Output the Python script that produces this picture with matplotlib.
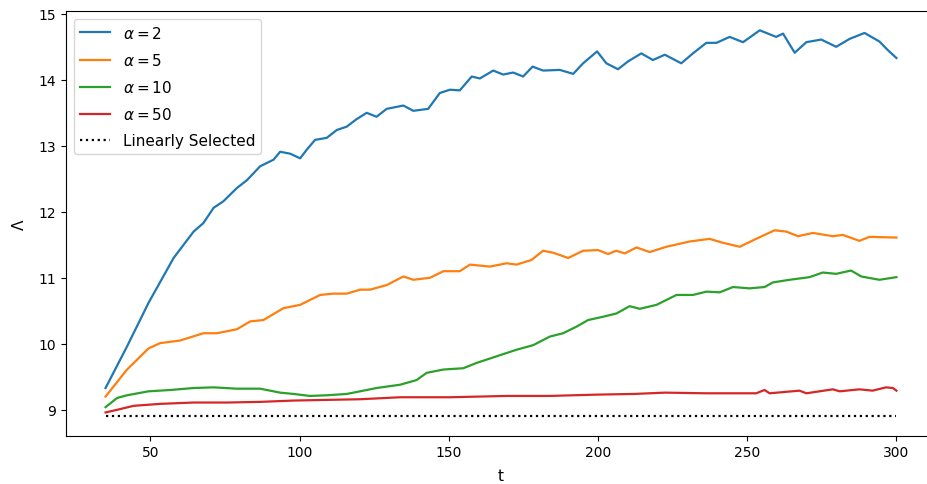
import matplotlib
matplotlib.use("Agg")
import matplotlib.pyplot as plt

t_a2 = [35, 42.2, 49.4, 57.8, 64.5, 67.8, 71.2, 74.5, 79, 82.4, 86.8, 91.3, 93.5, 96.9, 100.2,
        102.4, 105.2, 109.1, 112.5, 115.8, 119, 122.5, 125.8, 129.2, 134.8, 138.1, 143.1, 147,
        150.4, 153.7, 157.7, 160.4, 164.9, 168.2, 171.6, 174.9, 178.1, 181.6, 187.2, 191.7, 195,
        199.7, 202.8, 206.7, 210.1, 214.5, 218.4, 222.4, 227.9, 231.8, 236.3, 239.7, 244.1,
        248.6, 254.2, 259.7, 262, 265.9, 269.8, 274.8, 279.8, 284.3, 289.3, 294.3, 297.1, 300]
lam_a2 = [9.33, 9.96, 10.62, 11.30, 11.70, 11.83, 12.06, 12.16, 12.36, 12.48, 12.69, 12.79, 12.91,
          12.88, 12.81, 12.94, 13.09, 13.12, 13.24, 13.29, 13.40, 13.50, 13.44, 13.56, 13.61, 13.53,
          13.56, 13.80, 13.85, 13.84, 14.05, 14.02, 14.14, 14.08, 14.11, 14.05, 14.20, 14.14, 14.15,
          14.09, 14.25, 14.43, 14.25, 14.16, 14.28, 14.40, 14.30, 14.38, 14.25, 14.40, 14.56, 14.56,
          14.65, 14.57, 14.75, 14.65, 14.70, 14.41, 14.57, 14.61, 14.50, 14.62, 14.71, 14.58, 14.45,
          14.33]

t_a5 = [35, 42.2, 49.4, 53.3, 60, 67.8, 72.3, 79, 83.5, 87.9, 94.6, 100.2, 106.9, 111.3, 115.8,
        120.3, 123.6, 129.2, 134.8, 138.1, 143.7, 148.2, 153.7, 157.1, 163.8, 169.4, 172.7, 177.7,
        181.6, 185, 190, 195, 200, 203.4, 206.1, 209, 212.9, 217.3, 222.9, 230.7, 237.4, 241.9,
        247.5, 252.5, 259.2, 263.1, 267, 272, 278.7, 282, 287.6, 290.9, 300]
lam_a5 = [9.20, 9.61, 9.93, 10.01, 10.05, 10.16, 10.16, 10.22, 10.34, 10.36, 10.54, 10.59, 10.74,
          10.76, 10.76, 10.82, 10.82, 10.89, 11.02, 10.97, 11.00, 11.10, 11.10, 11.20, 11.17, 11.22,
          11.20, 11.27, 11.41, 11.38, 11.30, 11.41, 11.42, 11.36, 11.41, 11.37, 11.46, 11.39, 11.47,
          11.55, 11.59, 11.53, 11.47, 11.58, 11.72, 11.70, 11.63, 11.68, 11.63, 11.65, 11.56, 11.62,
          11.61]

t_a10 = [35, 38.9, 42.2, 49.4, 56.7, 64.5, 71.2, 79, 86.8, 93.5, 98, 103.5, 109.1, 115.8, 120.3,
         125.8, 133.7, 139.2, 142.6, 148.2, 154.9, 159.3, 166, 172.7, 178.3, 183.9, 188.3, 192.8,
         196.7, 201.7, 206.2, 210.6, 214, 219.6, 226.3, 231.8, 236.3, 240.8, 245.2, 250.8, 255.8,
         258.6, 264.2, 270.9, 275.3, 279.8, 284.8, 288.2, 294.3, 300]
lam_a10 = [9.04, 9.18, 9.22, 9.28, 9.30, 9.33, 9.34, 9.32, 9.32, 9.26, 9.24, 9.21, 9.22, 9.24, 9.28,
           9.33, 9.38, 9.45, 9.56, 9.61, 9.63, 9.71, 9.81, 9.91, 9.98, 10.11, 10.16, 10.26, 10.36,
           10.41, 10.46, 10.57, 10.53, 10.59, 10.74, 10.74, 10.79, 10.78, 10.86, 10.84, 10.86, 10.93,
           10.97, 11.01, 11.08, 11.06, 11.11, 11.02, 10.97, 11.01]

t_a50 = [35, 38.9, 44.4, 53.3, 64.5, 75.6, 86.8, 98, 109.1, 120.3, 133.7, 150.4, 169.4, 183.9,
         199.7, 212, 222.4, 236.3, 253, 255.8, 257.5, 267.5, 269.8, 278.7, 281, 287.6, 292, 296.5,
         298.8, 300]
lam_a50 = [8.96, 9.00, 9.06, 9.09, 9.11, 9.11, 9.12, 9.14, 9.15, 9.16, 9.19, 9.19, 9.21, 9.21, 9.23,
           9.24, 9.26, 9.25, 9.25, 9.30, 9.25, 9.29, 9.25, 9.31, 9.28, 9.31, 9.29, 9.34, 9.33, 9.29]

t_lin = [35, 300]
lam_lin = [8.9, 8.9]

labels = [r"$\alpha=2$", r"$\alpha=5$", r"$\alpha=10$", r"$\alpha=50$", "Linearly Selected"]

fig = plt.figure(figsize=(9.28, 4.85), dpi=100)
ax = fig.add_axes([66 / 928, 1 - 436.7 / 485, 870 / 928, 424.7 / 485])

ax.plot(t_a2, lam_a2, color="#1f77b4", lw=1.6, label=labels[0])
ax.plot(t_a5, lam_a5, color="#ff7f0e", lw=1.6, label=labels[1])
ax.plot(t_a10, lam_a10, color="#2ca02c", lw=1.6, label=labels[2])
ax.plot(t_a50, lam_a50, color="#d62728", lw=1.6, label=labels[3])
ax.plot(t_lin, lam_lin, color="black", ls=":", lw=1.6, label=labels[4])

ax.set_xlim(21.75, 313.25)
ax.set_ylim(8.6075, 15.0425)
ax.set_xticks([50, 100, 150, 200, 250, 300])
ax.set_yticks([9, 10, 11, 12, 13, 14, 15])
ax.spines["right"].set_visible(False)
ax.tick_params(labelsize=10)
ax.set_xlabel("t", fontsize=11, labelpad=6)
ax.set_ylabel("Λ", fontsize=11, labelpad=8.5)
ax.legend(loc="upper left", fontsize=11, labelspacing=0.73)

fig.savefig("out.png", dpi=100)
